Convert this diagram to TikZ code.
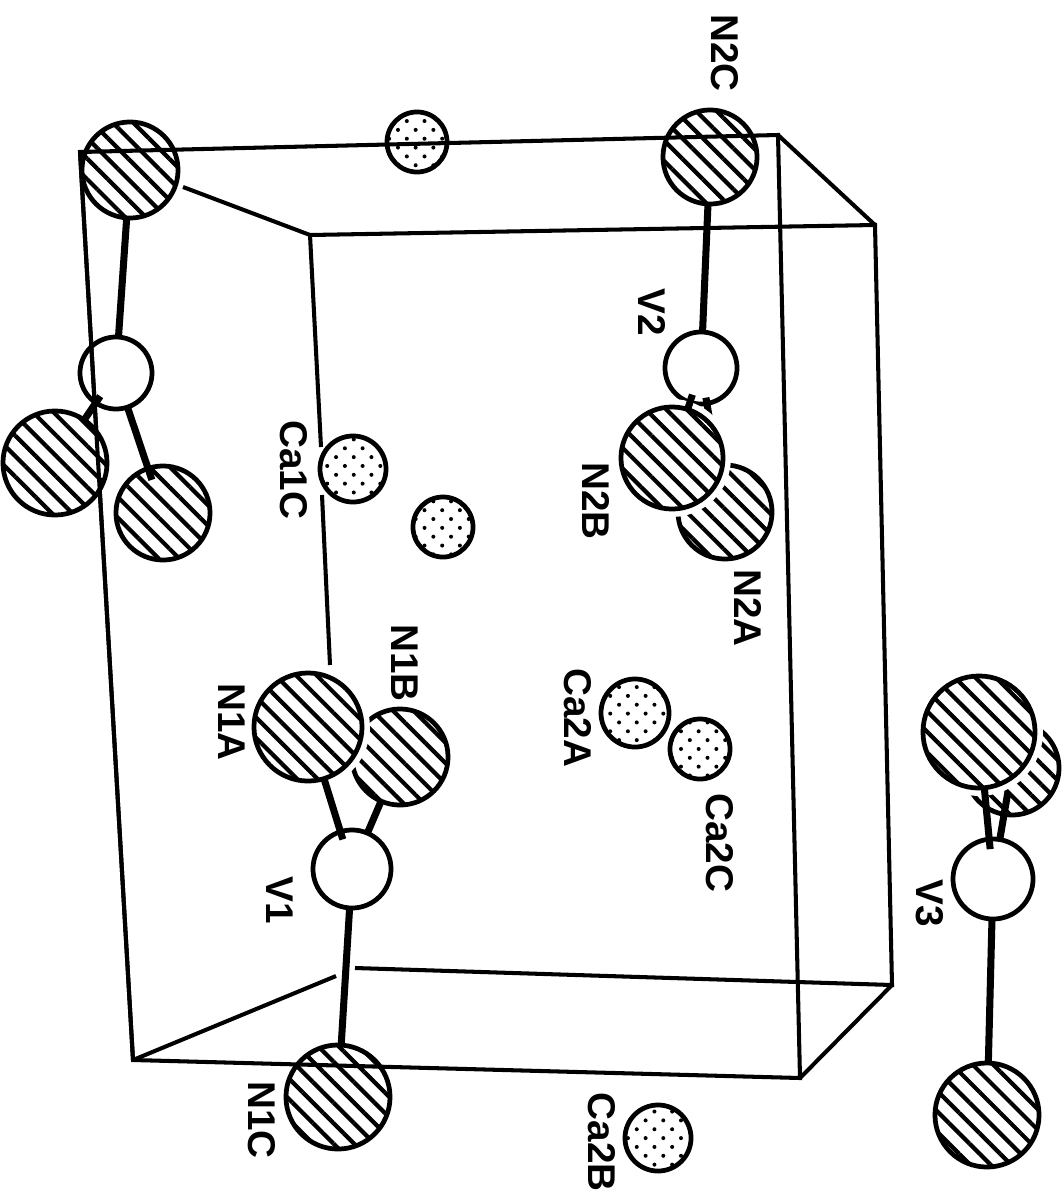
\documentclass[tikz,border=0pt]{standalone}
\usepackage{fontspec}
\setmainfont{Liberation Sans}
\usetikzlibrary{patterns.meta}
\tikzset{
 atomline/.style={draw=black,line width=1.35pt,circle,inner sep=0pt,outer sep=0pt},
 natom/.style={atomline,preaction={fill=white},pattern={Lines[angle=-45,distance=0.145cm,line width=1.2pt]}},
 caatom/.style={atomline,preaction={fill=white},pattern={Dots[angle=45,distance=0.125cm,radius=0.02cm]}},
 vatom/.style={atomline,fill=white},
 halo/.style={preaction={draw=white,line width=4.5pt}},
 cellline/.style={line width=1.15pt},
 bondline/.style={line width=2pt},
 atomlabel/.style={rotate=-90,inner sep=0pt,font=\fontsize{11}{11}\selectfont\bfseries}
}
\begin{document}
\begin{tikzpicture}[x=0.01cm,y=-0.01cm]
\useasboundingbox (0,0) rectangle (1063,1200);
% corners of the cell
\coordinate (A) at (80,152);
\coordinate (B) at (778,135);
\coordinate (C) at (310,235);
\coordinate (D) at (875,225);
\coordinate (E) at (892,985);
\coordinate (F) at (355,968);
\coordinate (G) at (800,1078);
\coordinate (H) at (133,1060);
\coordinate (Aend) at (183,187);
\coordinate (Cone) at (321,447);
\coordinate (Ctwo) at (322,495);
\coordinate (Cthree) at (330,665);
\coordinate (Fend) at (336,976);
% back of the cell
\draw[cellline] (Aend)--(C)--(D)--(E)--(F);
\draw[cellline] (C)--(Cone);
\draw[cellline] (Ctwo)--(Cthree);
\draw[cellline] (H)--(Fend);
\draw[cellline] (B)--(D);
\draw[cellline] (G)--(E);
% upper left group
\node[vatom,minimum size=0.72cm] (Vzero) at (116,373) {};
\draw[cellline] (A)--(H);
\node[natom,minimum size=1.04cm] (Nzl) at (55,463) {};
\node[natom,minimum size=0.94cm] (Nzr) at (163,513) {};
\node[natom,minimum size=0.96cm] (Nzt) at (130,170) {};
\draw[bondline] (Vzero)--(Nzt);
\draw[bondline,shorten <=-0.08cm] (Vzero)--(Nzl);
\draw[bondline,shorten >=-0.12cm] (Vzero)--(Nzr);
% calcium atoms
\node[caatom,minimum size=0.60cm] (Catop) at (417,142) {};
\node[caatom,minimum size=0.66cm] (CaoneC) at (353,469) {};
\node[caatom,minimum size=0.60cm] (Caone) at (443,527) {};
\node[caatom,minimum size=0.68cm] (CatwoA) at (635,713) {};
\node[caatom,minimum size=0.60cm] (CatwoC) at (700,749) {};
\node[caatom,minimum size=0.66cm] (CatwoB) at (658,1138) {};
% V2 group
\node[natom,minimum size=0.94cm] (NtwoC) at (710,157) {};
\node[natom,minimum size=0.94cm] (NtwoA) at (725,512) {};
\node[vatom,minimum size=0.72cm] (Vtwo) at (701,368) {};
\draw[bondline,shorten <=-0.06cm] (Vtwo)--(NtwoA);
\node[natom,halo,minimum size=1.02cm] (NtwoB) at (672,458) {};
\draw[bondline] (Vtwo)--(NtwoC);
\draw[bondline,shorten <=-0.08cm] (Vtwo)--(NtwoB);
% V1 group
\node[natom,minimum size=0.96cm] (NoneB) at (400,757) {};
\node[natom,halo,minimum size=1.08cm] (NoneA) at (308,727) {};
\node[vatom,minimum size=0.78cm] (Vone) at (352,869) {};
\node[natom,minimum size=1.04cm] (NoneC) at (338,1097) {};
\draw[bondline,shorten <=-0.08cm] (Vone)--(NoneA);
\draw[bondline] (Vone)--(NoneB);
\draw[bondline] (Vone)--(NoneC);
% front of the cell
\draw[cellline] (H)--(A)--(B)--(G)--cycle;
% V3 group
\node[natom,minimum size=0.94cm] (NthreeB) at (1012,768) {};
\node[vatom,minimum size=0.80cm] (Vthree) at (993,879) {};
\draw[bondline,shorten >=-0.22cm] (Vthree)--(NthreeB);
\node[natom,halo,minimum size=1.12cm] (NthreeA) at (979,732) {};
\node[natom,minimum size=1.04cm] (NthreeC) at (987,1115) {};
\draw[bondline,shorten <=-0.10cm] (Vthree)--(NthreeA);
\draw[bondline] (Vthree)--(NthreeC);
% labels
\node[atomlabel] (labNtwoC) at (725,53) {N2C};
\node[atomlabel] (labVtwo) at (652,312) {V2};
\node[atomlabel] (labNtwoB) at (596,501) {N2B};
\node[atomlabel] (labNtwoA) at (748,608) {N2A};
\node[atomlabel] (labCaoneC) at (294,470) {Ca1C};
\node[atomlabel] (labCatwoA) at (578,718) {Ca2A};
\node[atomlabel] (labCatwoC) at (720,843) {Ca2C};
\node[atomlabel] (labNoneB) at (405,663) {N1B};
\node[atomlabel] (labNoneA) at (232,722) {N1A};
\node[atomlabel] (labVone) at (280,900) {V1};
\node[atomlabel] (labNoneC) at (262,1120) {N1C};
\node[atomlabel] (labCatwoB) at (602,1142) {Ca2B};
\node[atomlabel] (labVthree) at (930,903) {V3};
\end{tikzpicture}
\end{document}
